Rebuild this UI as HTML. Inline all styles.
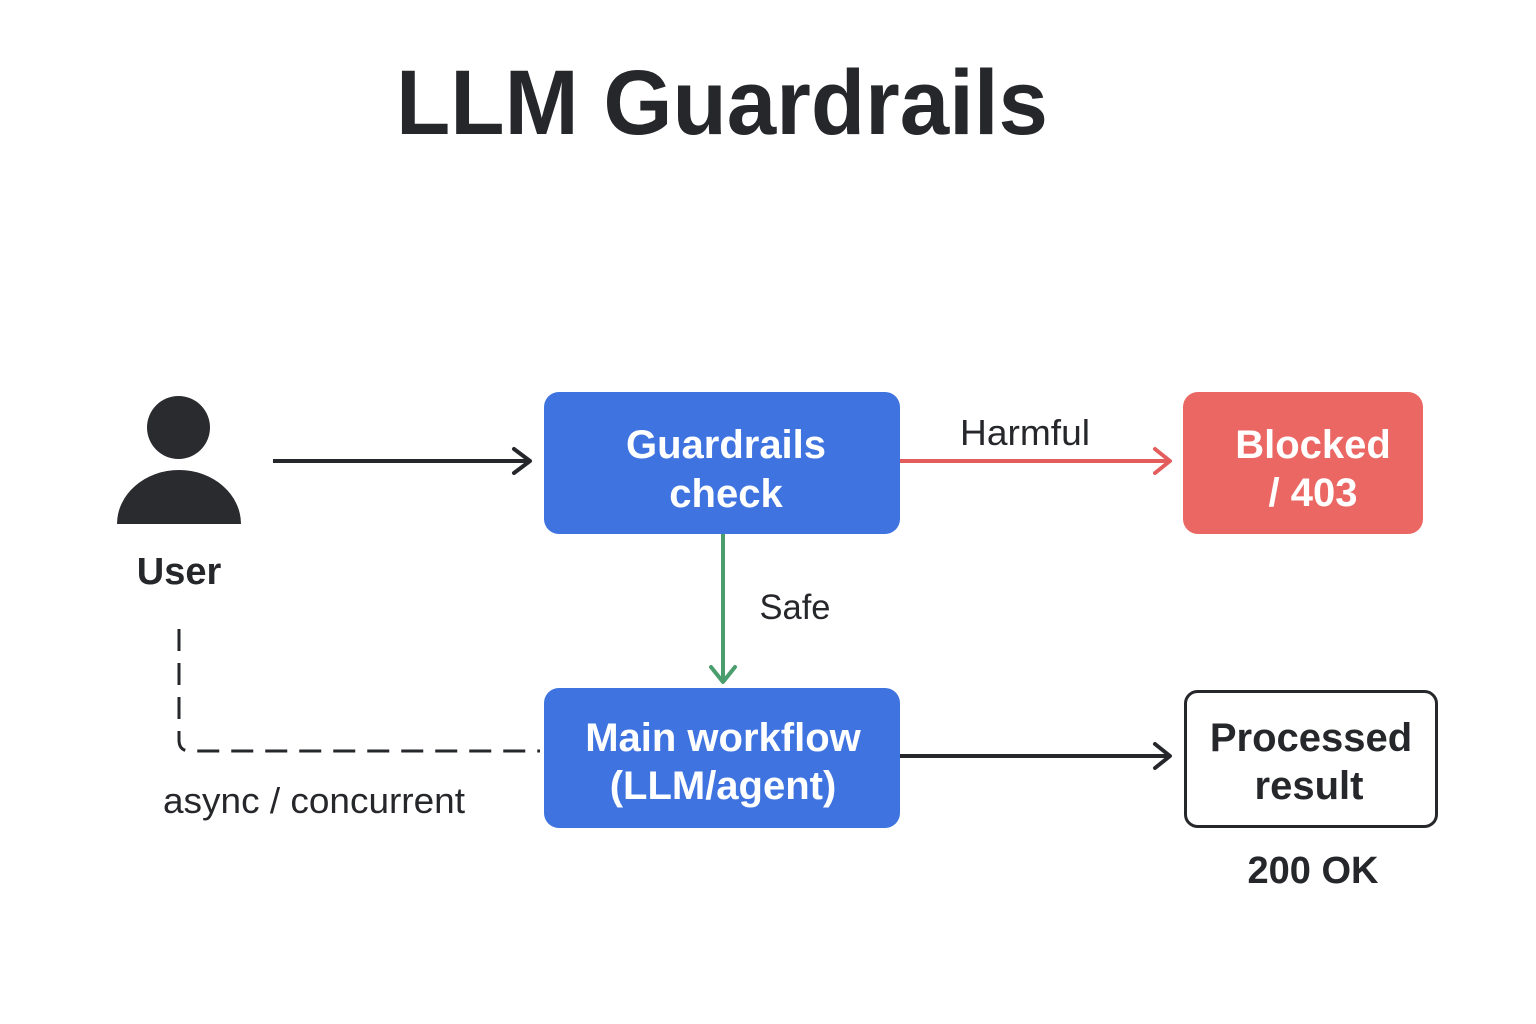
<!DOCTYPE html>
<html><head><meta charset="utf-8"><style>
html,body{margin:0;padding:0;background:#fff;}
svg{display:block;}
text{font-family:"Liberation Sans",sans-serif;}
</style></head><body>
<svg width="1536" height="1024" viewBox="0 0 1536 1024" xmlns="http://www.w3.org/2000/svg">
<rect width="1536" height="1024" fill="#fff"/>
<text x="722" y="134" text-anchor="middle" font-size="92" font-weight="bold" fill="#26272b" textLength="652" lengthAdjust="spacingAndGlyphs">LLM Guardrails</text>

<circle cx="178.5" cy="427.5" r="31.5" fill="#2a2b2f"/>
<path d="M117 524 A62 54 0 0 1 241 524 Z" fill="#2a2b2f"/>
<text x="179" y="584" text-anchor="middle" font-size="38" font-weight="bold" fill="#26272b">User</text>

<line x1="273" y1="461" x2="530" y2="461" stroke="#26272b" stroke-width="4"/>
<polyline points="514,449 530,461 514,473" fill="none" stroke="#26272b" stroke-width="4" stroke-linecap="round" stroke-linejoin="round"/>

<rect x="544" y="392" width="356" height="142" rx="15" fill="#3f74e0"/>
<text x="726" y="458" text-anchor="middle" font-size="40" font-weight="bold" fill="#fff">Guardrails</text>
<text x="726" y="507" text-anchor="middle" font-size="40" font-weight="bold" fill="#fff">check</text>

<line x1="900" y1="461" x2="1170" y2="461" stroke="#e35d5d" stroke-width="4"/>
<polyline points="1155,449 1170,461 1155,473" fill="none" stroke="#e35d5d" stroke-width="4" stroke-linecap="round" stroke-linejoin="round"/>
<text x="1025" y="445" text-anchor="middle" font-size="36" fill="#26272b" textLength="130" lengthAdjust="spacingAndGlyphs">Harmful</text>

<rect x="1183" y="392" width="240" height="142" rx="15" fill="#ea6763"/>
<text x="1313" y="458" text-anchor="middle" font-size="40" font-weight="bold" fill="#fff">Blocked</text>
<text x="1313" y="506" text-anchor="middle" font-size="40" font-weight="bold" fill="#fff">/ 403</text>

<line x1="723" y1="534" x2="723" y2="682" stroke="#4a9e6e" stroke-width="4"/>
<polyline points="711,667 723,682 735,667" fill="none" stroke="#4a9e6e" stroke-width="4" stroke-linecap="round" stroke-linejoin="round"/>
<text x="795" y="619" text-anchor="middle" font-size="35" fill="#26272b" textLength="71" lengthAdjust="spacingAndGlyphs">Safe</text>

<rect x="544" y="688" width="356" height="140" rx="15" fill="#3f74e0"/>
<text x="723" y="751" text-anchor="middle" font-size="40" font-weight="bold" fill="#fff">Main workflow</text>
<text x="723" y="799" text-anchor="middle" font-size="40" font-weight="bold" fill="#fff">(LLM/agent)</text>

<line x1="900" y1="756" x2="1170" y2="756" stroke="#26272b" stroke-width="4"/>
<polyline points="1155,744 1170,756 1155,768" fill="none" stroke="#26272b" stroke-width="4" stroke-linecap="round" stroke-linejoin="round"/>

<rect x="1185.5" y="691.5" width="251" height="135" rx="12" fill="#fff" stroke="#26272b" stroke-width="3"/>
<text x="1311" y="751" text-anchor="middle" font-size="40" font-weight="bold" fill="#26272b">Processed</text>
<text x="1309" y="799" text-anchor="middle" font-size="40" font-weight="bold" fill="#26272b">result</text>
<text x="1313" y="883" text-anchor="middle" font-size="38" font-weight="bold" fill="#26272b">200 OK</text>

<path d="M179 629 L179 740 Q179 751 190 751 L540 751" fill="none" stroke="#26272b" stroke-width="3" stroke-dasharray="22 12"/>
<text x="314" y="813" text-anchor="middle" font-size="36" fill="#26272b" textLength="302" lengthAdjust="spacingAndGlyphs">async / concurrent</text>
</svg>
</body></html>
